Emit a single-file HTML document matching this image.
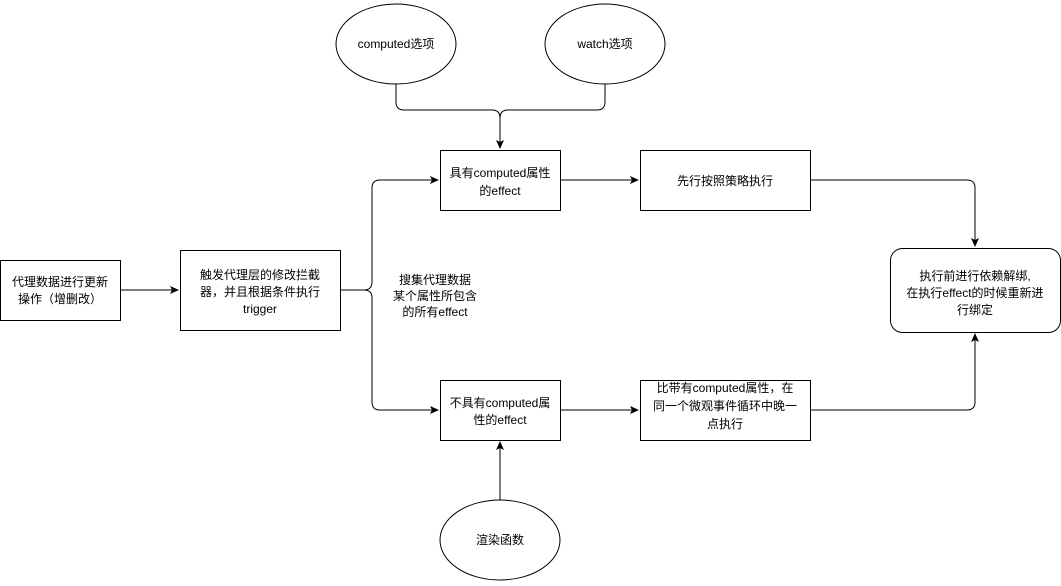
<!DOCTYPE html>
<html><head><meta charset="utf-8"><style>
html,body{margin:0;padding:0;background:#fff;}
svg text{font-family:"Liberation Sans","Noto Sans CJK SC",sans-serif;font-size:12px;fill:#000;}
</style></head><body>
<svg width="1061" height="581" viewBox="0 0 1061 581" xmlns="http://www.w3.org/2000/svg">
<defs><marker id="a" markerWidth="10" markerHeight="10" refX="8" refY="5" orient="auto" markerUnits="userSpaceOnUse"><path d="M0,1 L9,5 L0,9 L2,5 Z" fill="#000"/></marker></defs>
<g fill="#fff" stroke="#000" stroke-width="1">
<ellipse cx="396" cy="44" rx="60" ry="40"/>
<ellipse cx="605" cy="44" rx="60" ry="40"/>
<ellipse cx="500" cy="540" rx="60" ry="40"/>
<rect x="440.5" y="150.5" width="120" height="60"/>
<rect x="640.5" y="150.5" width="170" height="60"/>
<rect x="440.5" y="380.5" width="120" height="60"/>
<rect x="640.5" y="380.5" width="170" height="60"/>
<rect x="0.5" y="260.5" width="120" height="60"/>
<rect x="180.5" y="250.5" width="160" height="80"/>
<rect x="890.5" y="248.5" width="170" height="84" rx="12"/>
</g>
<g fill="none" stroke="#000" stroke-width="1">
<path d="M396,84 V102 Q396,110 404,110 H492 Q500,110 500,118 V148" marker-end="url(#a)"/>
<path d="M605,84 V102 Q605,110 597,110 H508 Q500,110 500,118"/>
<path d="M120,290 H178" marker-end="url(#a)"/>
<path d="M340,290 H364 Q372,290 372,282 V188 Q372,180 380,180 H438" marker-end="url(#a)"/>
<path d="M364,290 Q372,290 372,298 V402 Q372,410 380,410 H438" marker-end="url(#a)"/>
<path d="M560,180 H638" marker-end="url(#a)"/>
<path d="M560,410 H638" marker-end="url(#a)"/>
<path d="M500,500 V442" marker-end="url(#a)"/>
<path d="M810,180 H967 Q975,180 975,188 V246" marker-end="url(#a)"/>
<path d="M810,410 H967 Q975,410 975,402 V334" marker-end="url(#a)"/>
</g>
<g text-anchor="middle">
<text x="396" y="48">computed选项</text>
<text x="605" y="48">watch选项</text>
<text x="500" y="544">渲染函数</text>
<text x="500" y="177">具有computed属性</text>
<text x="500" y="195">的effect</text>
<text x="725" y="185">先行按照策略执行</text>
<text x="500" y="407">不具有computed属</text>
<text x="500" y="424">性的effect</text>
<text x="725" y="392">比带有computed属性，在</text>
<text x="725" y="410">同一个微观事件循环中晚一</text>
<text x="725" y="428">点执行</text>
<text x="60" y="286">代理数据进行更新</text>
<text x="60" y="303">操作（增删改）</text>
<text x="260" y="279">触发代理层的修改拦截</text>
<text x="260" y="296">器，并且根据条件执行</text>
<text x="260" y="313">trigger</text>
<text x="435" y="284">搜集代理数据</text>
<text x="435" y="300">某个属性所包含</text>
<text x="435" y="316">的所有effect</text>
<text x="975" y="280">执行前进行依赖解绑,</text>
<text x="975" y="297">在执行effect的时候重新进</text>
<text x="975" y="314">行绑定</text>
</g>
</svg>
</body></html>
